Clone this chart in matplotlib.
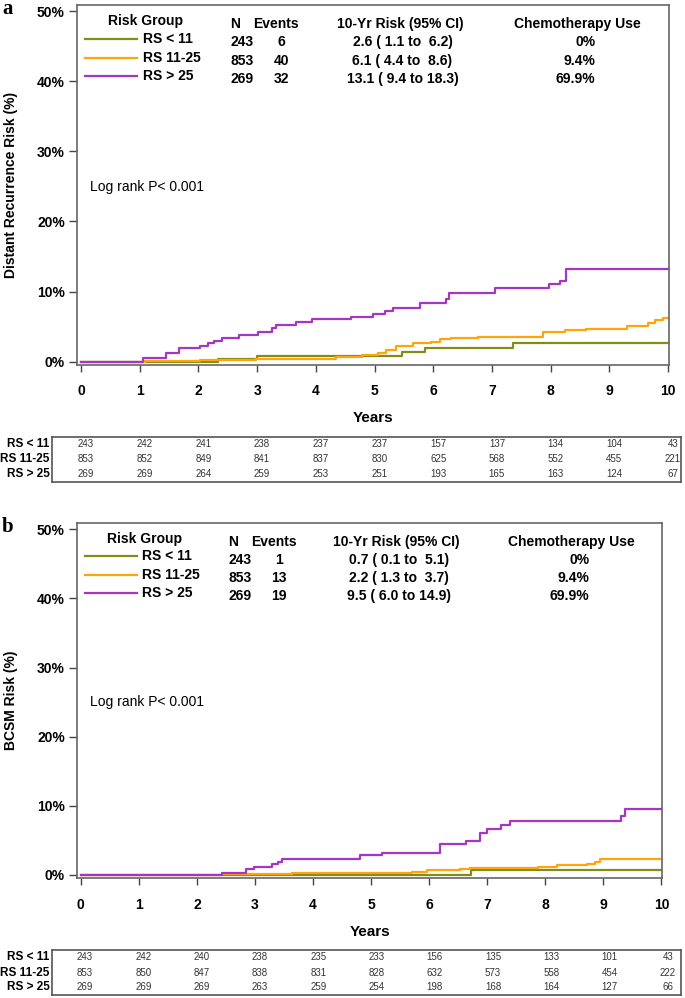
import matplotlib
matplotlib.use("Agg")
import matplotlib.pyplot as plt

plt.rcParams["font.family"] = ["Liberation Sans", "DejaVu Sans"]

W, H = 685, 998

groups = ["RS < 11", "RS 11-25", "RS > 25"]
colors = ["#838c14", "#ffa50a", "#a535c4"]
years = list(range(11))
ytick_vals = [0, 10, 20, 30, 40, 50]
chemo = ["0%", "9.4%", "69.9%"]

# panel a: distant recurrence
a_n = [243, 853, 269]
a_events = [6, 40, 32]
a_risk = ["2.6 ( 1.1 to  6.2)", "6.1 ( 4.4 to  8.6)", "13.1 ( 9.4 to 18.3)"]
a_t_low = [0, 2.33, 2.99, 5.46, 5.86, 7.36]
a_v_low = [0, 0.4, 0.85, 1.43, 1.91, 2.62]
a_t_mid = [0, 1.09, 2.02, 2.33, 2.98, 4.35, 4.78, 5.06, 5.20, 5.37, 5.66, 5.97,
           6.11, 6.31, 6.76, 7.87, 8.24, 8.61, 9.30, 9.66, 9.78, 9.92]
a_v_mid = [0, 0.1, 0.2, 0.3, 0.45, 0.7, 0.96, 1.2, 1.67, 2.24, 2.62, 2.85,
           3.19, 3.34, 3.48, 4.28, 4.52, 4.70, 5.09, 5.47, 5.95, 6.27]
a_t_high = [0, 1.06, 1.45, 1.67, 2.03, 2.17, 2.27, 2.41, 2.69, 3.02, 3.25, 3.33,
            3.67, 3.94, 4.60, 4.98, 5.18, 5.32, 5.78, 6.22, 6.27, 7.06, 7.97, 8.16, 8.27]
a_v_high = [0, 0.48, 1.2, 1.9, 2.24, 2.62, 3.0, 3.42, 3.8, 4.28, 4.76, 5.23,
            5.7, 6.04, 6.42, 6.8, 7.23, 7.61, 8.41, 9.0, 9.84, 10.47, 11.08, 11.55, 13.17]
a_at_risk = [
    [243, 242, 241, 238, 237, 237, 157, 137, 134, 104, 43],
    [853, 852, 849, 841, 837, 830, 625, 568, 552, 455, 221],
    [269, 269, 264, 259, 253, 251, 193, 165, 163, 124, 67],
]

# panel b: breast cancer specific mortality
b_n = [243, 853, 269]
b_events = [1, 13, 19]
b_risk = ["0.7 ( 0.1 to  5.1)", "2.2 ( 1.3 to  3.7)", "9.5 ( 6.0 to 14.9)"]
b_t_low = [0, 6.72]
b_v_low = [0, 0.72]
b_t_mid = [0, 2.43, 3.31, 3.63, 5.70, 5.96, 6.53, 6.70, 7.88, 8.20, 8.72, 8.86, 8.95]
b_v_mid = [0, 0.1, 0.15, 0.25, 0.48, 0.72, 0.87, 1.06, 1.2, 1.4, 1.59, 1.92, 2.27]
b_t_high = [0, 2.43, 2.84, 2.98, 3.30, 3.40, 3.47, 4.81, 5.18, 6.18, 6.64, 6.88,
            7.00, 7.24, 7.40, 9.31, 9.38]
b_v_high = [0, 0.33, 0.82, 1.2, 1.55, 1.92, 2.31, 2.89, 3.25, 4.48, 4.96, 6.12,
            6.61, 7.23, 7.81, 8.53, 9.5]
b_at_risk = [
    [243, 242, 240, 238, 235, 233, 156, 135, 133, 101, 43],
    [853, 850, 847, 838, 831, 828, 632, 573, 558, 454, 222],
    [269, 269, 269, 263, 259, 254, 198, 168, 164, 127, 66],
]


def px_rect(x0, y0, x1, y1):
    return [x0 / W, 1 - y1 / H, (x1 - x0) / W, (y1 - y0) / H]


def draw_panel(fig, main_px, xlim, ylim, table_px, table_xlim, letter, ylabel,
               curves, n, events, risk, at_risk, years_y):
    ax = fig.add_axes(px_rect(*main_px))
    for (t, v), c in zip(curves, colors):
        t = list(t) + [10]
        v = list(v) + [v[-1]]
        ax.step(t, v, where="post", color=c, lw=1.6)
    ax.set_xlim(*xlim)
    ax.set_ylim(*ylim)
    ax.set_xticks(years)
    ax.set_xticklabels([str(y) for y in years], fontweight="bold", fontsize=10)
    ax.set_yticks(ytick_vals)
    ax.set_yticklabels([f"{v}%" for v in ytick_vals], fontweight="bold", fontsize=10)
    for s in ax.spines.values():
        s.set_color("#666666")
        s.set_linewidth(1.2)
    ax.tick_params(axis="x", length=5, width=1, color="#444444", pad=9)
    ax.tick_params(axis="y", length=6, width=1, color="#444444", pad=3)

    # legend block drawn as text inside the frame
    ax.text(0.115, 0.955, "Risk Group", transform=ax.transAxes, ha="center",
            va="center", fontsize=10, fontweight="bold")
    ax.text(0.2665, 0.947, "N", transform=ax.transAxes, ha="center",
            va="center", fontsize=10, fontweight="bold")
    ax.text(0.336, 0.947, "Events", transform=ax.transAxes, ha="center",
            va="center", fontsize=10, fontweight="bold")
    ax.text(0.5454, 0.947, "10-Yr Risk (95% CI)", transform=ax.transAxes,
            ha="center", va="center", fontsize=10, fontweight="bold")
    ax.text(0.8445, 0.947, "Chemotherapy Use", transform=ax.transAxes,
            ha="center", va="center", fontsize=10, fontweight="bold")
    row_y = [0.905, 0.854, 0.803]
    for i in range(3):
        y = row_y[i]
        ax.plot([0.0135, 0.1014], [y, y], transform=ax.transAxes, color=colors[i], lw=1.6)
        ax.text(0.1115, y, groups[i], transform=ax.transAxes, ha="left",
                va="center", fontsize=10, fontweight="bold")
        yn = y - 0.009
        ax.text(0.278, yn, str(n[i]), transform=ax.transAxes, ha="center",
                va="center", fontsize=10, fontweight="bold")
        ax.text(0.3443, yn, str(events[i]), transform=ax.transAxes, ha="center",
                va="center", fontsize=10, fontweight="bold")
        ax.text(0.5496, yn, risk[i], transform=ax.transAxes, ha="center",
                va="center", fontsize=10, fontweight="bold")
        ax.text(0.8754, yn, chemo[i], transform=ax.transAxes, ha="right",
                va="center", fontsize=10, fontweight="bold")

    ax.text(0.022, 0.495, "Log rank P< 0.001", transform=ax.transAxes,
            ha="left", va="center", fontsize=10)

    cx = (main_px[0] + main_px[2]) / 2
    cy = (main_px[1] + main_px[3]) / 2
    fig.text(cx / W, 1 - years_y / H, "Years", ha="center", va="center",
             fontsize=11, fontweight="bold")
    fig.text(11 / W, 1 - cy / H, ylabel, rotation=90, ha="center", va="center",
             fontsize=10, fontweight="bold")
    fig.text(8 / W, 1 - (main_px[1] + 4) / H, letter, ha="center", va="center",
             fontsize=15, fontweight="bold", family="Liberation Serif")

    # number at risk table
    tb = fig.add_axes(px_rect(*table_px))
    tb.set_xlim(*table_xlim)
    tb.set_ylim(0, 3)
    tb.set_xticks([])
    tb.set_yticks([])
    for s in tb.spines.values():
        s.set_color("#555555")
        s.set_linewidth(1.2)
    for i in range(3):
        y = 2.5 - i
        tb.text(-0.004, y / 3, groups[i], transform=tb.transAxes, ha="right",
                va="center", fontsize=8.5, fontweight="bold")
        for k, val in zip(years, at_risk[i]):
            tb.text(k, y, str(val), ha="center", va="center", fontsize=7,
                    color="#333333")
    return ax


fig = plt.figure(figsize=(W / 100, H / 100), dpi=100)

draw_panel(fig, (77.3, 5, 669, 365), (-0.063, 10.017), (-0.47, 50.86),
           (52.3, 436.7, 681, 481.7), (-0.574, 10.136), "a",
           "Distant Recurrence Risk (%)",
           [(a_t_low, a_v_low), (a_t_mid, a_v_mid), (a_t_high, a_v_high)],
           a_n, a_events, a_risk, a_at_risk, 418)

draw_panel(fig, (77.3, 522.7, 662, 878.3), (-0.059, 10.01), (-0.48, 50.95),
           (52.3, 950, 681, 995), (-0.561, 10.223), "b",
           "BCSM Risk (%)",
           [(b_t_low, b_v_low), (b_t_mid, b_v_mid), (b_t_high, b_v_high)],
           b_n, b_events, b_risk, b_at_risk, 932)

fig.savefig("out.png", dpi=100)
